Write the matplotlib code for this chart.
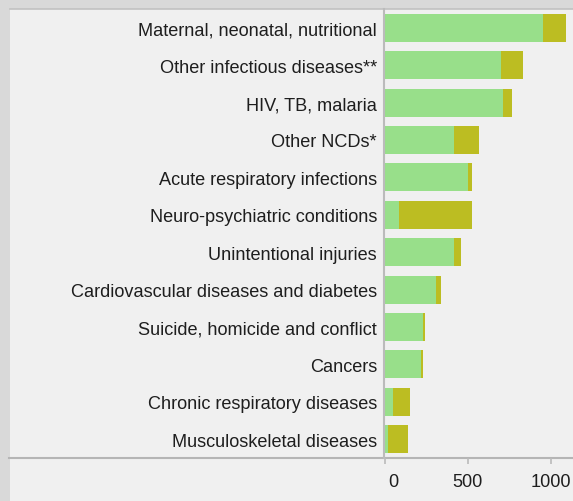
import numpy as np
import matplotlib.pyplot as plt
import matplotlib.transforms as mtransforms
from matplotlib.patches import Rectangle
from matplotlib.lines import Line2D

plt.rcParams['font.family'] = ['Liberation Sans', 'DejaVu Sans']

causes = ["Maternal, neonatal, nutritional", "Other infectious diseases**",
          "HIV, TB, malaria", "Other NCDs*", "Acute respiratory infections",
          "Neuro-psychiatric conditions", "Unintentional injuries",
          "Cardiovascular diseases and diabetes", "Suicide, homicide and conflict",
          "Cancers", "Chronic respiratory diseases", "Musculoskeletal diseases"]
yll = [954, 700, 712, 416, 501, 84, 416, 308, 229, 217, 48, 18]
yld = [139, 133, 54, 151, 24, 441, 43, 30, 12, 12, 103, 121]
xticks = [0, 500, 1000]

W, H = 573, 502
fig = plt.figure(figsize=(W / 100, H / 100), dpi=100, facecolor="#d9d9d9")

# light panel behind the chart
fig.patches.append(Rectangle((10 / W, 0), 1 - 10 / W, (H - 10) / H,
                             transform=fig.transFigure, facecolor="#f0f0f0",
                             edgecolor="none", zorder=-5))
fig.lines.append(Line2D([10 / W, 1], [1 - 9.5 / H, 1 - 9.5 / H],
                        transform=fig.transFigure, color="#c2c2c2", lw=1.2, zorder=-4))

ax = fig.add_axes([384 / W, (H - 459) / H, (W - 384) / W, 449 / H])
ax.set_facecolor("none")
ax.set_zorder(2)

y = np.arange(len(causes))
ax.barh(y, yll, height=0.75, color="#98df8a")
ax.barh(y, yld, left=yll, height=0.75, color="#bcbd22")

ax.set_xlim(-6, 1135)
ax.set_ylim(len(causes) - 0.5, -0.5)
ax.set_yticks(y)
ax.set_yticklabels(causes, fontsize=13.1, color="#1e1e1e")
ax.tick_params(axis="y", length=0, pad=5)
ax.set_xticks(xticks)
ax.set_xticklabels([str(v) for v in xticks], fontsize=13.1, color="#1e1e1e")
ax.tick_params(axis="x", length=4.3, width=1.2, color="#bbbbbb", pad=6.5)
lab0 = ax.get_xticklabels()[0]
lab0.set_transform(lab0.get_transform() +
                   mtransforms.ScaledTranslation(8 / 100, 0, fig.dpi_scale_trans))

for s in ["top", "right", "bottom"]:
    ax.spines[s].set_visible(False)
ax.spines["left"].set_color("#bbbbbb")
ax.spines["left"].set_linewidth(1.5)

# x axis line running across the whole panel
fig.lines.append(Line2D([9 / W, 1], [(H - 459) / H] * 2, transform=fig.transFigure,
                        color="#b5b5b5", lw=1.5, zorder=-3))

fig.savefig("out.png", dpi=100, facecolor=fig.get_facecolor())
